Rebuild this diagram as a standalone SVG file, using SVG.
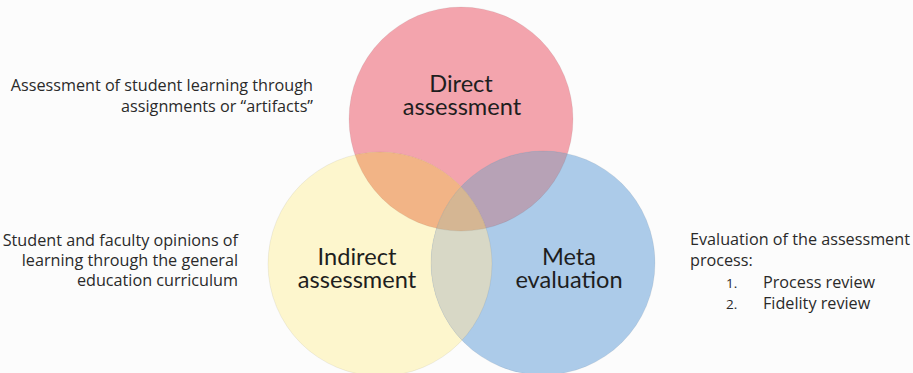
<svg xmlns="http://www.w3.org/2000/svg" width="913" height="373" viewBox="0 0 913 373">
<style>
.desc{font-family:"Open Sans","Liberation Sans",sans-serif;font-size:16.2px;fill:#2a2a2a}
.lbl{font-family:Lato,"Open Sans",sans-serif;font-size:23.6px;fill:#1e1e1e;text-anchor:middle}
.r{text-anchor:end}
.num{font-size:13.5px}
.edge{fill:none;stroke:#000;stroke-opacity:0.06;stroke-width:1}
</style>
<defs>
<clipPath id="cR"><circle cx="461" cy="119" r="112"/></clipPath>
<clipPath id="cY"><circle cx="380" cy="264" r="112"/></clipPath>
<clipPath id="cB"><circle cx="543" cy="263" r="112"/></clipPath>
</defs>
<rect width="913" height="373" fill="#fcfcfc"/>
<g id="direct">
<circle cx="461" cy="119" r="112" fill="#f3a4ad"/>
</g>
<g id="indirect">
<circle cx="380" cy="264" r="112" fill="#fdf6cd"/>
</g>
<g id="meta">
<circle cx="543" cy="263" r="112" fill="#accbe9"/>
</g>
<g id="overlaps">
<g clip-path="url(#cR)"><circle cx="380" cy="264" r="112" fill="#f2b486"/></g>
<g clip-path="url(#cR)"><circle cx="543" cy="263" r="112" fill="#b7a2b6"/></g>
<g clip-path="url(#cY)"><circle cx="543" cy="263" r="112" fill="#d8d8c6"/></g>
<g clip-path="url(#cR)"><g clip-path="url(#cY)"><circle cx="543" cy="263" r="112" fill="#d5b693"/></g></g>
<circle class="edge" cx="461" cy="119" r="112"/>
<circle class="edge" cx="380" cy="264" r="112"/>
<circle class="edge" cx="543" cy="263" r="112"/>
</g>
<g id="direct-label">
<text class="lbl" x="461" y="92">Direct</text>
<text class="lbl" x="462" y="115">assessment</text>
</g>
<g id="indirect-label">
<text class="lbl" x="357" y="265">Indirect</text>
<text class="lbl" x="357" y="288">assessment</text>
</g>
<g id="meta-label">
<text class="lbl" x="569" y="265">Meta</text>
<text class="lbl" x="569" y="288">evaluation</text>
</g>
<g id="direct-desc">
<text class="desc r" x="313" y="91">Assessment of student learning through</text>
<text class="desc r" x="313" y="112">assignments or “artifacts”</text>
</g>
<g id="indirect-desc">
<text class="desc r" x="238" y="246">Student and faculty opinions of</text>
<text class="desc r" x="238" y="266">learning through the general</text>
<text class="desc r" x="238" y="286">education curriculum</text>
</g>
<g id="meta-desc">
<text class="desc" x="690" y="245">Evaluation of the assessment</text>
<text class="desc" x="690" y="266">process:</text>
<text class="desc num" x="726" y="288">1.</text>
<text class="desc" x="763" y="288">Process review</text>
<text class="desc num" x="726" y="309">2.</text>
<text class="desc" x="763" y="309">Fidelity review</text>
</g>
</svg>
